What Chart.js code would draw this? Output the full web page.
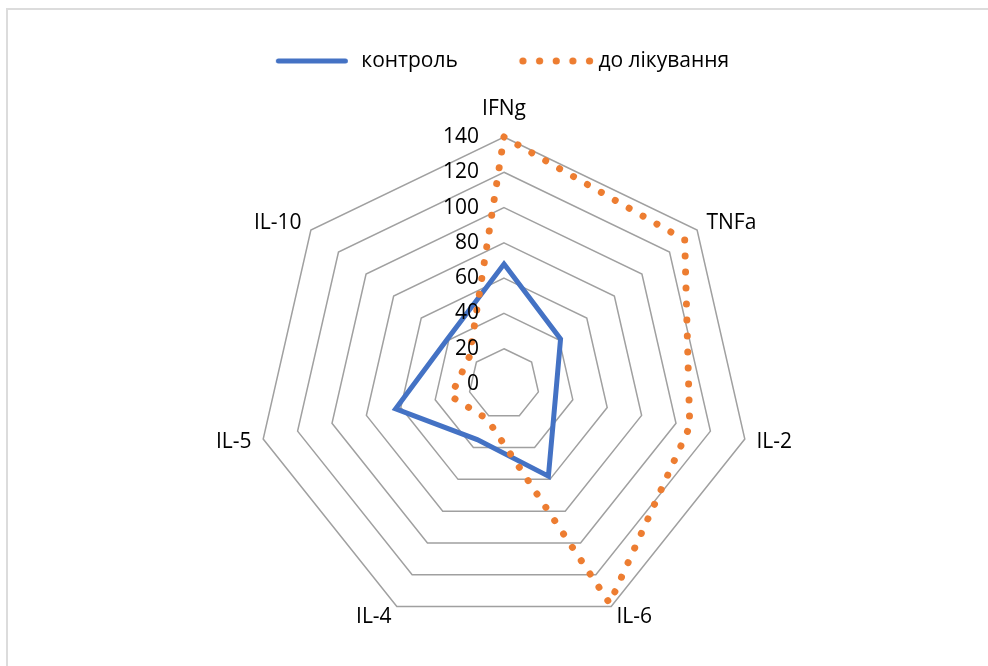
<!DOCTYPE html>
<html lang="uk">
<head>
<meta charset="utf-8">
<title>Цитокіновий профіль</title>
<script src="https://cdn.jsdelivr.net/npm/chart.js@4.4.1/dist/chart.umd.min.js"></script>
<style>
  html, body { margin: 0; padding: 0; background: #fff; width: 988px; height: 666px; overflow: hidden; }
  #frame { position: absolute; left: 6px; top: 8px; width: 1200px; height: 900px; border: 2px solid #dcdcdc; box-sizing: border-box; }
  #radar { position: absolute; left: 6px; top: -13px; }
</style>
</head>
<body>
<div id="frame"></div>
<canvas id="radar" width="996" height="700"></canvas>
<script>
// Cytokine categories (clockwise from the top)
const categories = ['IFNg', 'TNFa', 'IL-2', 'IL-6', 'IL-4', 'IL-5', 'IL-10'];

// Series values
const controlValues = [68, 41, 30, 58, 35, 63, 41];
const beforeTreatmentValues = [140, 131, 108, 138, 22, 31, 25];

// Series names
const seriesNames = ['контроль', 'до лікування'];

// Radial axis range
const axisMin = 0;
const axisMax = 140;
const axisStep = 20;

const BLUE = '#4472C4';
const ORANGE = '#ED7D31';
const FONT = '"Open Sans", "Noto Sans", sans-serif';
const FONT_SIZE = 21;

// Small canvases used as legend markers (solid line / round dots)
function swatch(draw) {
  const c = document.createElement('canvas');
  c.width = 96;
  c.height = 14;
  draw(c.getContext('2d'));
  return c;
}
const blueSwatch = swatch(g => {
  g.strokeStyle = BLUE;
  g.lineWidth = 5;
  g.lineCap = 'round';
  g.beginPath();
  g.moveTo(11.5, 7);
  g.lineTo(78.5, 7);
  g.stroke();
});
const orangeSwatch = swatch(g => {
  g.fillStyle = ORANGE;
  for (let k = 0; k < 5; k++) {
    g.beginPath();
    g.arc(19 + k * 16.65, 7, 3.6, 0, Math.PI * 2);
    g.fill();
  }
});

// Axis values and category names, placed through the radial scale
const axisText = {
  id: 'axisText',
  afterDatasetsDraw(chart) {
    const r = chart.scales.r;
    const ctx = chart.ctx;
    ctx.save();
    ctx.font = FONT_SIZE + 'px ' + FONT;
    ctx.fillStyle = '#000';

    ctx.textAlign = 'right';
    ctx.textBaseline = 'middle';
    r.ticks.forEach(t => {
      const d = r.getDistanceFromCenterForValue(t.value);
      ctx.fillText(String(t.value), r.xCenter - 25, r.yCenter - d);
    });

    chart.data.labels.forEach((label, i) => {
      const a = r.getIndexAngle(i);
      const p = r.getPointPosition(i, r.drawingArea + 12);
      const s = Math.sin(a);
      let y = p.y;
      if (Math.abs(s) < 0.05) {
        ctx.textAlign = 'center';
        y -= 16 * Math.sign(Math.cos(a));
      } else {
        ctx.textAlign = s > 0 ? 'left' : 'right';
      }
      ctx.fillText(label, p.x, y);
    });
    ctx.restore();
  }
};

new Chart(document.getElementById('radar'), {
  type: 'radar',
  data: {
    labels: categories,
    datasets: [
      {
        label: seriesNames[0],
        data: controlValues,
        borderColor: BLUE,
        backgroundColor: 'transparent',
        borderWidth: 5,
        borderJoinStyle: 'miter',
        fill: false,
        pointRadius: 0,
        pointHoverRadius: 0,
        order: 1
      },
      {
        label: seriesNames[1],
        data: beforeTreatmentValues,
        borderColor: ORANGE,
        backgroundColor: 'transparent',
        borderWidth: 7,
        borderCapStyle: 'round',
        borderDash: [0.001, 16],
        fill: false,
        pointRadius: 0,
        pointHoverRadius: 0,
        order: 0,
        // restart the dot pattern on every edge so each corner carries a dot
        segment: {
          borderDashOffset: c => c.p0DataIndex * 0.0001
        }
      }
    ]
  },
  options: {
    responsive: false,
    animation: false,
    devicePixelRatio: 1,
    layout: { padding: { top: 5.5, left: 0, right: 0, bottom: 56 } },
    elements: { line: { tension: 0 } },
    scales: {
      r: {
        min: axisMin,
        max: axisMax,
        startAngle: 0,
        ticks: { display: false, stepSize: axisStep },
        grid: { color: '#a0a0a0', lineWidth: 1.5 },
        angleLines: { display: false },
        pointLabels: { display: false }
      }
    },
    plugins: {
      tooltip: { enabled: false },
      title: {
        display: true,
        text: '',
        weight: 500,
        font: { size: 10, lineHeight: 1 },
        padding: { top: 45.5, bottom: 0 }
      },
      legend: {
        position: 'top',
        labels: {
          usePointStyle: true,
          pointStyleWidth: 72,
          padding: 58,
          color: '#000',
          font: { family: FONT, size: FONT_SIZE },
          generateLabels: chart => chart.data.datasets.map((ds, i) => ({
            text: ds.label,
            pointStyle: i === 0 ? blueSwatch : orangeSwatch,
            datasetIndex: i,
            hidden: false,
            lineWidth: 0,
            fillStyle: 'transparent',
            strokeStyle: 'transparent',
            fontColor: '#000'
          }))
        }
      }
    }
  },
  plugins: [axisText]
});
</script>
</body>
</html>
